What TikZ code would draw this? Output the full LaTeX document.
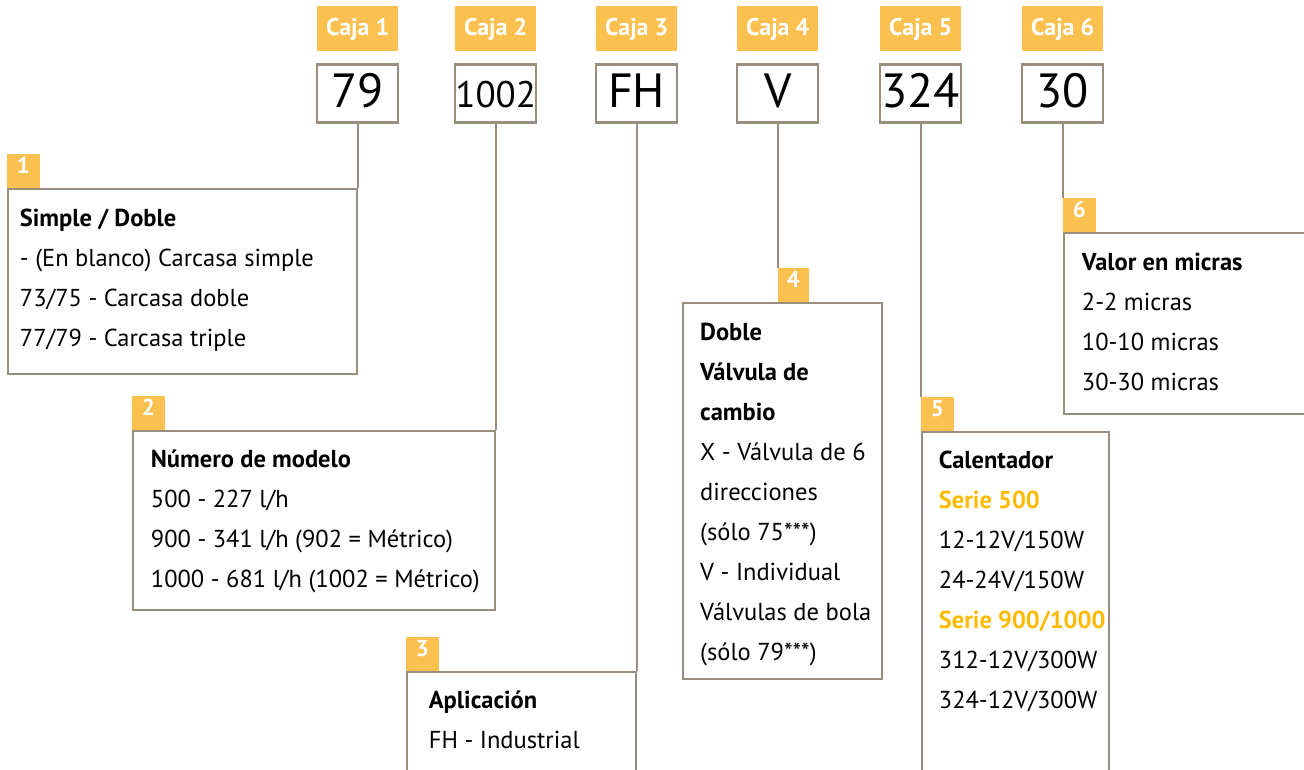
\documentclass[tikz,border=0pt]{standalone}
\usepackage{fontspec}
\setmainfont{PT Sans}
\usetikzlibrary{positioning}
\definecolor{caja_orange}{RGB}{251, 193, 80}
\definecolor{serie_orange}{RGB}{253, 186, 0}
\definecolor{border_grey}{RGB}{152, 142, 128}

\tikzset{
    caja/.style={fill=caja_orange, text=white, font=\bfseries\fontsize{24}{24}\selectfont,
        minimum width=81pt, inner sep=0pt, text height=29pt, text depth=16pt},
    value/.style={draw=border_grey, line width=2.5pt, fill=white, font=\fontsize{48}{48}\selectfont,
        minimum width=81pt, inner sep=0pt, text height=43pt, text depth=15pt},
    badge/.style={fill=caja_orange, text=white, font=\bfseries\fontsize{23}{23}\selectfont,
        minimum width=33pt, inner sep=0pt, text height=20pt, text depth=14pt, anchor=south west},
    descbox/.style={draw=border_grey, line width=2pt},
    % base anchor sits on the last line, so the shift is 38 + 40 per extra line
    desctext/.style={anchor=base west, align=left, inner sep=0pt, font=\fontsize{24.5}{40}\selectfont}
}

\begin{document}
\begin{tikzpicture}[x=1pt, y=-1pt]
    \useasboundingbox (0,0) rectangle (1304,769);
    \clip (0,0) rectangle (1304,769);

    % header and values
    \foreach \i/\x in {1/317, 2/455, 3/596, 4/737, 5/880, 6/1022}
        \node[caja, anchor=north west] (caja\i) at (\x,6) {Caja \i};

    \node[value, below=12pt of caja1] (val1) {79};
    \node[value, below=12pt of caja2, font=\fontsize{37}{37}\selectfont] (val2) {1002};
    \node[value, below=12pt of caja3] (val3) {FH};
    \node[value, below=12pt of caja4] (val4) {V};
    \node[value, below=12pt of caja5] (val5) {324};
    \node[value, below=12pt of caja6] (val6) {30};

    % description boxes
    \node[descbox, minimum width=349pt, minimum height=185pt, anchor=north east] (d1) at (val1.south |- 0,188) {};
    \node[descbox, minimum width=362pt, minimum height=179pt, anchor=north east] (d2) at (val2.south |- 0,430) {};
    \node[descbox, minimum width=229pt, minimum height=140pt, anchor=north east] (d3) at (val3.south |- 0,671) {};
    \node[descbox, minimum width=199pt, minimum height=376pt, anchor=north west] (d4) at (682,302) {};
    \node[descbox, minimum width=187pt, minimum height=380pt, anchor=north west] (d5) at (val5.south |- 0,431) {};
    \node[descbox, minimum width=242pt, minimum height=181pt, anchor=north west] (d6) at (val6.south |- 0,232) {};

    \node[badge] (b1) at (d1.north west) {1};
    \node[badge] (b2) at (d2.north west) {2};
    \node[badge] (b3) at (d3.north west) {3};
    \node[badge, minimum width=31pt] (b4) at (val4.south |- d4.north) {4};
    \node[badge] (b5) at (d5.north west) {5};
    \node[badge] (b6) at (d6.north west) {6};

    % texts
    \node[desctext] (t1) at ([shift={(13,158)}]d1.north west)
        {\textbf{Simple / Doble}\\- (En blanco) Carcasa simple\\73/75 - Carcasa doble\\77/79 - Carcasa triple};
    \node[desctext] (t2) at ([shift={(19,157)}]d2.north west)
        {\textbf{Número de modelo}\\500 - 227 l/h\\900 - 341 l/h (902 = Métrico)\\1000 - 681 l/h (1002 = Métrico)};
    \node[desctext] (t3) at ([shift={(23,77)}]d3.north west)
        {\textbf{Aplicación}\\FH - Industrial};
    \node[desctext] (t4) at ([shift={(18,358)}]d4.north west)
        {\textbf{Doble}\\\textbf{Válvula de}\\\textbf{cambio}\\X - Válvula de 6\\direcciones\\(sólo 75***)\\V - Individual\\Válvulas de bola\\(sólo 79***)};
    \node[desctext] (t5) at ([shift={(18,277)}]d5.north west)
        {\textbf{Calentador}\\\textcolor{serie_orange}{\textbf{Serie 500}}\\12-12V/150W\\24-24V/150W\\\textcolor{serie_orange}{\textbf{Serie 900/1000}}\\312-12V/300W\\324-12V/300W};
    \node[desctext] (t6) at ([shift={(19,158)}]d6.north west)
        {\textbf{Valor en micras}\\2-2 micras\\10-10 micras\\30-30 micras};

    \begin{scope}[every edge/.style={draw=border_grey, line width=2pt}]
        \draw (val1.south) edge (d1.north east);
        \draw (val2.south) edge (d2.north east);
        \draw (val3.south) edge (d3.north east);
        \draw (val4.south) edge (b4.north west);
        \draw (val5.south) edge (b5.north west);
        \draw (val6.south) edge (b6.north west);
    \end{scope}

\end{tikzpicture}
\end{document}
